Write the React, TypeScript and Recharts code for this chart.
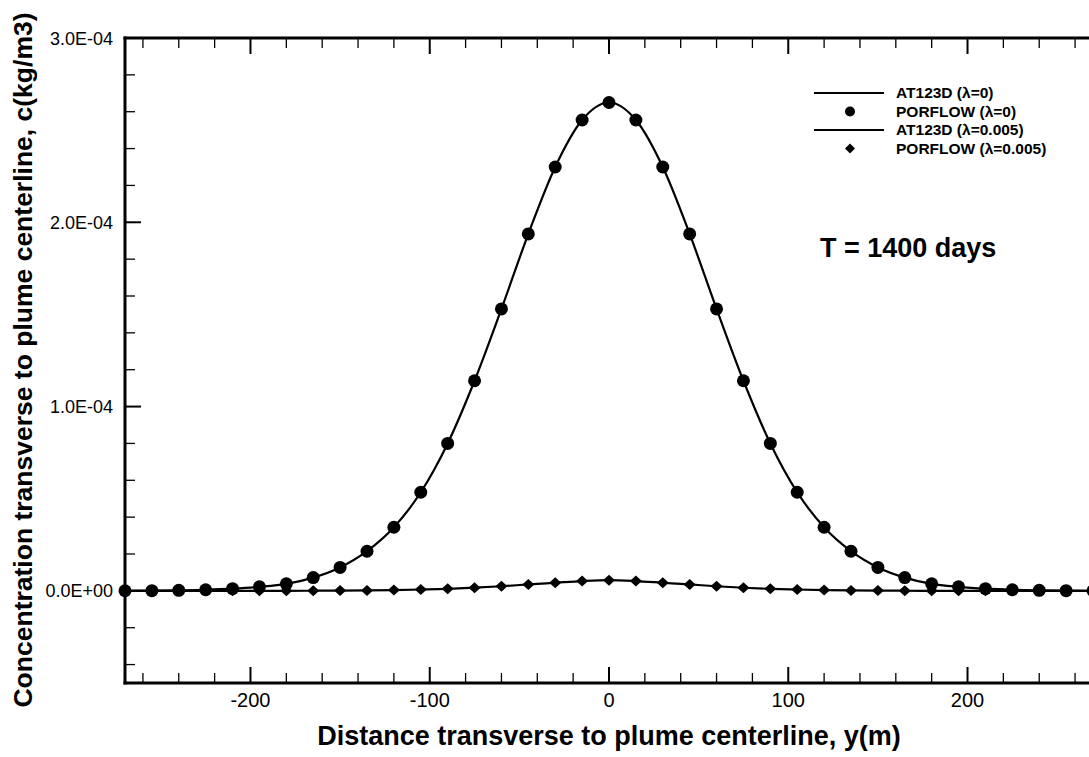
import React from "react";
import { ComposedChart, Line, XAxis, YAxis, Legend } from "recharts";

// transverse distance y (m)
const yDistance = [
  -270, -255, -240, -225, -210, -195, -180, -165, -150, -135, -120, -105, -90, -75, -60, -45, -30, -15,
  0, 15, 30, 45, 60, 75, 90, 105, 120, 135, 150, 165, 180, 195, 210, 225, 240, 255, 270,
];

// concentration, kg/m3
const at123dLam0 = [
  5e-8, 1e-7, 3e-7, 6e-7, 1.2e-6, 2.2e-6, 3.8e-6, 7.2e-6, 1.27e-5, 2.15e-5, 3.45e-5, 5.35e-5, 8.0e-5, 1.14e-4, 1.53e-4, 1.937e-4, 2.3e-4, 2.555e-4,
  2.65e-4, 2.555e-4, 2.3e-4, 1.937e-4, 1.53e-4, 1.14e-4, 8.0e-5, 5.35e-5, 3.45e-5, 2.15e-5, 1.27e-5, 7.2e-6, 3.8e-6, 2.2e-6, 1.2e-6, 6e-7, 3e-7, 1e-7, 5e-8,
];
const porflowLam0 = [
  5e-8, 1e-7, 3e-7, 6e-7, 1.2e-6, 2.2e-6, 3.8e-6, 7.2e-6, 1.27e-5, 2.15e-5, 3.45e-5, 5.35e-5, 8.0e-5, 1.14e-4, 1.53e-4, 1.937e-4, 2.3e-4, 2.555e-4,
  2.65e-4, 2.555e-4, 2.3e-4, 1.937e-4, 1.53e-4, 1.14e-4, 8.0e-5, 5.35e-5, 3.45e-5, 2.15e-5, 1.27e-5, 7.2e-6, 3.8e-6, 2.2e-6, 1.2e-6, 6e-7, 3e-7, 1e-7, 5e-8,
];
const at123dLam005 = [
  0, 0, 0, 0, 5e-9, 1.5e-8, 3e-8, 7e-8, 1.3e-7, 2.5e-7, 4.5e-7, 7.5e-7, 1.1e-6, 1.7e-6, 2.5e-6, 3.5e-6, 4.4e-6, 5.3e-6,
  5.8e-6, 5.3e-6, 4.4e-6, 3.5e-6, 2.5e-6, 1.7e-6, 1.1e-6, 7.5e-7, 4.5e-7, 2.5e-7, 1.3e-7, 7e-8, 3e-8, 1.5e-8, 5e-9, 0, 0, 0, 0,
];
const porflowLam005 = [
  0, 0, 0, 0, 5e-9, 1.5e-8, 3e-8, 7e-8, 1.3e-7, 2.5e-7, 4.5e-7, 7.5e-7, 1.1e-6, 1.7e-6, 2.5e-6, 3.5e-6, 4.4e-6, 5.3e-6,
  5.8e-6, 5.3e-6, 4.4e-6, 3.5e-6, 2.5e-6, 1.7e-6, 1.1e-6, 7.5e-7, 4.5e-7, 2.5e-7, 1.3e-7, 7e-8, 3e-8, 1.5e-8, 5e-9, 0, 0, 0, 0,
];

const xTicks = [-260, -240, -220, -200, -180, -160, -140, -120, -100, -80, -60, -40, -20, 0, 20, 40, 60, 80, 100, 120, 140, 160, 180, 200, 220, 240, 260];
const yTicks = [-4e-5, -2e-5, 0, 2e-5, 4e-5, 6e-5, 8e-5, 1e-4, 1.2e-4, 1.4e-4, 1.6e-4, 1.8e-4, 2e-4, 2.2e-4, 2.4e-4, 2.6e-4, 2.8e-4, 3e-4];

const legendItems = [
  { label: "AT123D (λ=0)", kind: "line" },
  { label: "PORFLOW (λ=0)", kind: "circle" },
  { label: "AT123D (λ=0.005)", kind: "line" },
  { label: "PORFLOW (λ=0.005)", kind: "diamond" },
];

const rows = yDistance.map((y, i) => ({
  y,
  at0: at123dLam0[i],
  pf0: porflowLam0[i],
  at5: at123dLam005[i],
  pf5: porflowLam005[i],
}));

const FONT = "'Liberation Sans', Arial, Helvetica, sans-serif";

const isMajorX = (v: number) => v % 100 === 0;
const isMajorY = (v: number) => Math.abs(v / 1e-4 - Math.round(v / 1e-4)) < 1e-6;

function fmtE(v: number) {
  if (v === 0) return "0.0E+00";
  const exp = Math.floor(Math.log10(Math.abs(v)) + 1e-9);
  const m = v / Math.pow(10, exp);
  return `${m.toFixed(1)}E${exp < 0 ? "-" : "+"}${String(Math.abs(exp)).padStart(2, "0")}`;
}

function BottomTick(props: any) {
  const { x, y, payload } = props;
  const major = isMajorX(payload.value);
  return (
    <g>
      <line x1={x} x2={x} y1={y} y2={y - (major ? 16 : 10)} stroke="#000" strokeWidth={major ? 2 : 1.3} />
      {major && (
        <text x={x} y={y + 24} textAnchor="middle" fontSize={20} fontFamily={FONT} fill="#000">
          {payload.value}
        </text>
      )}
    </g>
  );
}

function TopTick(props: any) {
  const { x, y, payload } = props;
  const major = isMajorX(payload.value);
  return <line x1={x} x2={x} y1={y} y2={y + (major ? 16 : 10)} stroke="#000" strokeWidth={major ? 2 : 1.3} />;
}

function LeftTick(props: any) {
  const { x, y, payload } = props;
  const major = isMajorY(payload.value);
  return (
    <g>
      <line x1={x} x2={x + (major ? 16 : 10)} y1={y} y2={y} stroke="#000" strokeWidth={major ? 2 : 1.3} />
      {major && (
        <text x={x - 12} y={y + 6.5} textAnchor="end" fontSize={18} fontFamily={FONT} fill="#000">
          {fmtE(payload.value)}
        </text>
      )}
    </g>
  );
}

function RightTick(props: any) {
  const { x, y, payload } = props;
  const major = isMajorY(payload.value);
  return <line x1={x} x2={x - (major ? 16 : 10)} y1={y} y2={y} stroke="#000" strokeWidth={major ? 2 : 1.3} />;
}

function CircleDot(p: any) {
  if (p.cx == null || p.cy == null) return null;
  return <circle key={`c${p.index}`} cx={p.cx} cy={p.cy} r={6.5} fill="#000" />;
}

function DiamondDot(p: any) {
  if (p.cx == null || p.cy == null) return null;
  const { cx, cy } = p;
  return <path key={`d${p.index}`} d={`M${cx},${cy - 5.5} L${cx + 6},${cy} L${cx},${cy + 5.5} L${cx - 6},${cy} Z`} fill="#000" />;
}

function LegendBox() {
  return (
    <svg width={280} height={82} style={{ display: "block" }}>
      {legendItems.map((it, i) => {
        const cy = 13 + i * 18.5;
        return (
          <g key={it.label}>
            {it.kind === "line" && <line x1={8} x2={78} y1={cy} y2={cy} stroke="#000" strokeWidth={2.2} />}
            {it.kind === "circle" && <circle cx={44} cy={cy} r={5} fill="#000" />}
            {it.kind === "diamond" && <path d={`M44,${cy - 5} L49,${cy} L44,${cy + 5} L39,${cy} Z`} fill="#000" />}
            <text x={90} y={cy + 5} fontSize={15.5} fontWeight="bold" fontFamily={FONT} fill="#000">
              {it.label}
            </text>
          </g>
        );
      })}
    </svg>
  );
}

const frame = { stroke: "#000", strokeWidth: 3, strokeLinecap: "square" as const };

export default function App() {
  return (
    <div style={{ position: "fixed", left: 0, top: 0, width: 1089, height: 757, overflow: "hidden", background: "#fff", fontFamily: FONT }}>
      <ComposedChart width={1100} height={757} data={rows} margin={{ top: 37, right: 6, bottom: 73, left: 124 }}>
        <XAxis xAxisId="b" dataKey="y" type="number" domain={[-270, 270]} ticks={xTicks} interval={0} height={1}
          tickSize={0} tickMargin={0} tickLine={false} axisLine={frame} tick={<BottomTick />} />
        <XAxis xAxisId="t" orientation="top" dataKey="y" type="number" domain={[-270, 270]} ticks={xTicks} interval={0} height={1}
          tickSize={0} tickMargin={0} tickLine={false} axisLine={frame} tick={<TopTick />} />
        <YAxis yAxisId="l" type="number" domain={[-5e-5, 3e-4]} ticks={yTicks} interval={0} width={1}
          tickSize={0} tickMargin={0} tickLine={false} axisLine={frame} tick={<LeftTick />} />
        <YAxis yAxisId="r" orientation="right" type="number" domain={[-5e-5, 3e-4]} ticks={yTicks} interval={0} width={1}
          tickSize={0} tickMargin={0} tickLine={false} axisLine={frame} tick={<RightTick />} />
        <Legend layout="vertical" align="center" verticalAlign="middle" content={() => <LegendBox />}
          wrapperStyle={{ position: "absolute", left: 806, top: 80, width: 280 }} />
        <Line xAxisId="b" yAxisId="l" type="monotone" dataKey="at0" stroke="#000" strokeWidth={2.2} dot={false} isAnimationActive={false} />
        <Line xAxisId="b" yAxisId="l" type="monotone" dataKey="at5" stroke="#000" strokeWidth={2.2} dot={false} isAnimationActive={false} />
        <Line xAxisId="b" yAxisId="l" dataKey="pf0" stroke="none" dot={<CircleDot />} activeDot={false} isAnimationActive={false} />
        <Line xAxisId="b" yAxisId="l" dataKey="pf5" stroke="none" dot={<DiamondDot />} activeDot={false} isAnimationActive={false} />
        <text x={820} y={257} fontSize={27} fontWeight="bold" fontFamily={FONT} fill="#000">T = 1400 days</text>
        <text x={609} y={745} textAnchor="middle" fontSize={27} fontWeight="bold" fontFamily={FONT} fill="#000">
          Distance transverse to plume centerline, y(m)
        </text>
        <text x={23} y={360} transform="rotate(-90, 23, 360)" textAnchor="middle" dominantBaseline="central" fontSize={26.5}
          fontWeight="bold" fontFamily={FONT} fill="#000">
          Concentration transverse to plume centerline, c(kg/m3)
        </text>
      </ComposedChart>
    </div>
  );
}
